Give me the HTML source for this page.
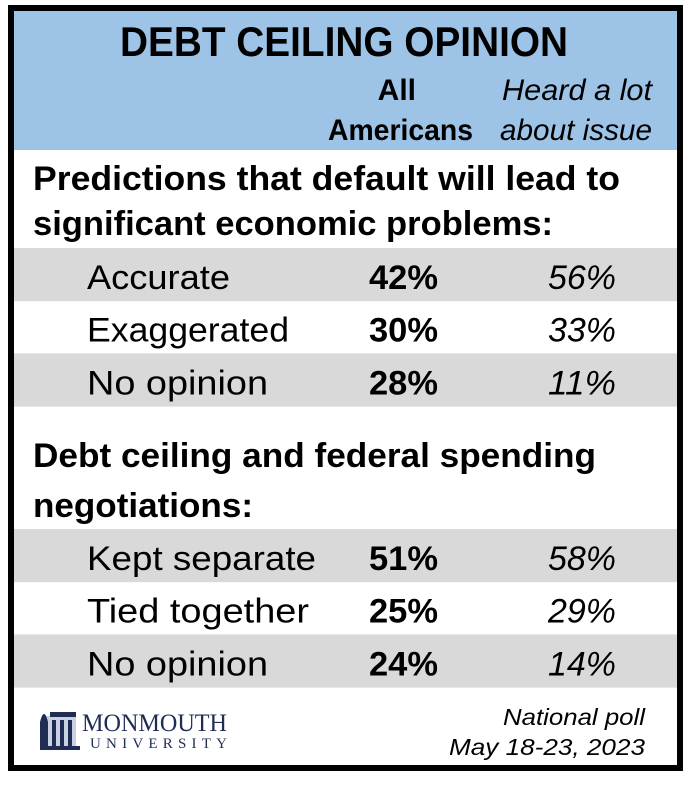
<!DOCTYPE html>
<html><head><meta charset="utf-8">
<style>
html,body{margin:0;padding:0;background:#fff;}
svg{display:block;font-family:"Liberation Sans",Arial,sans-serif;}
</style></head>
<body>
<svg id="c" width="687" height="787" viewBox="0 0 687 787">
  <rect x="0" y="0" width="687" height="787" fill="#fff"/>
  <rect x="11" y="8" width="669" height="760" fill="#fff" stroke="#000" stroke-width="6"/>
  <rect x="14" y="11" width="663" height="139" fill="#9dc3e6"/>
  <text x="344" y="56" text-anchor="middle" font-weight="bold" font-size="42" textLength="448" lengthAdjust="spacingAndGlyphs">DEBT CEILING OPINION</text>
  <text x="416" y="100" text-anchor="end" font-weight="bold" font-size="30">All</text>
  <text x="328" y="140" font-weight="bold" font-size="30" textLength="145" lengthAdjust="spacingAndGlyphs">Americans</text>
  <text x="502" y="100" font-style="italic" font-size="30" textLength="150" lengthAdjust="spacingAndGlyphs">Heard a lot</text>
  <text x="500" y="140" font-style="italic" font-size="30" textLength="152" lengthAdjust="spacingAndGlyphs">about issue</text>
  <g id="rows"></g>
  <g>
    <rect x="42" y="716" width="34" height="33" fill="#c9d1e2"/>
    <path d="M40 749 L40 722 Q44 706 48 722 L48 749 Z" fill="#1f2d55"/>
    <rect x="50" y="712" width="26" height="5" fill="#1f2d55"/>
    <rect x="52" y="720" width="4" height="27" fill="#1f2d55"/>
    <rect x="60" y="720" width="4" height="27" fill="#1f2d55"/>
    <rect x="68" y="720" width="4" height="27" fill="#1f2d55"/>
    <rect x="40" y="746" width="40" height="4" fill="#1f2d55"/>
    <text x="82" y="731" font-family="Liberation Serif,serif" font-size="25" fill="#1f2d55" textLength="145" lengthAdjust="spacingAndGlyphs">MONMOUTH</text>
    <text x="90" y="748" font-family="Liberation Serif,serif" font-size="15" fill="#1f2d55" textLength="137" lengthAdjust="spacing">UNIVERSITY</text>
  </g>
  <text x="645" y="725" text-anchor="end" font-style="italic" font-size="23" textLength="142" lengthAdjust="spacingAndGlyphs">National poll</text>
  <text x="645" y="755" text-anchor="end" font-style="italic" font-size="23" textLength="196" lengthAdjust="spacingAndGlyphs">May 18-23, 2023</text>
</svg>
<script>
const headings = [
  ["Predictions that default will lead to", "significant economic problems:"],
  ["Debt ceiling and federal spending", "negotiations:"]
];
const headingWidths = [[587, 520], [563, 220]];
const categories = [
  ["Accurate", "Exaggerated", "No opinion"],
  ["Kept separate", "Tied together", "No opinion"]
];
const labelWidths = [[143, 202, 181], [229, 222, 181]];
const allAmericans = [[42, 30, 28], [51, 25, 24]];
const heardALot = [[56, 33, 11], [58, 29, 14]];

const NS = "http://www.w3.org/2000/svg";
const g = document.getElementById("rows");
const groupTop = [248, 529];
const headBase = [[190, 235], [467, 517]];
const rowH = 52.7;
function mk(tag, attrs) {
  const e = document.createElementNS(NS, tag);
  for (const k in attrs) e.setAttribute(k, attrs[k]);
  g.appendChild(e);
  return e;
}
for (let s = 0; s < categories.length; s++) {
  for (let l = 0; l < 2; l++) {
    const t = mk("text", {x: 33, y: headBase[s][l], "font-weight": "bold", "font-size": 34, textLength: headingWidths[s][l], lengthAdjust: "spacingAndGlyphs"});
    t.textContent = headings[s][l];
    
    
  }
  for (let i = 0; i < categories[s].length; i++) {
    const top = groupTop[s] + i * rowH;
    if (i % 2 === 0) {
      const r = mk("rect", {x: 14, y: top, width: 663, height: rowH + 0.5, fill: "#d9d9d9"});
      
      
    }
    const base = top + 41;
    const lab = mk("text", {x: 87, y: base, "font-size": 34, textLength: labelWidths[s][i], lengthAdjust: "spacingAndGlyphs"});
    lab.textContent = categories[s][i];
    
    
    const v1 = mk("text", {x: 438, y: base, "font-size": 34, "font-weight": "bold", "text-anchor": "end", textLength: 69, lengthAdjust: "spacingAndGlyphs"});
    v1.textContent = allAmericans[s][i] + "%";
    
    
    const v2 = mk("text", {x: 616, y: base, "font-size": 34, "font-style": "italic", "text-anchor": "end", textLength: 68, lengthAdjust: "spacingAndGlyphs"});
    v2.textContent = heardALot[s][i] + "%";
    
    
  }
}
</script>
</body></html>
